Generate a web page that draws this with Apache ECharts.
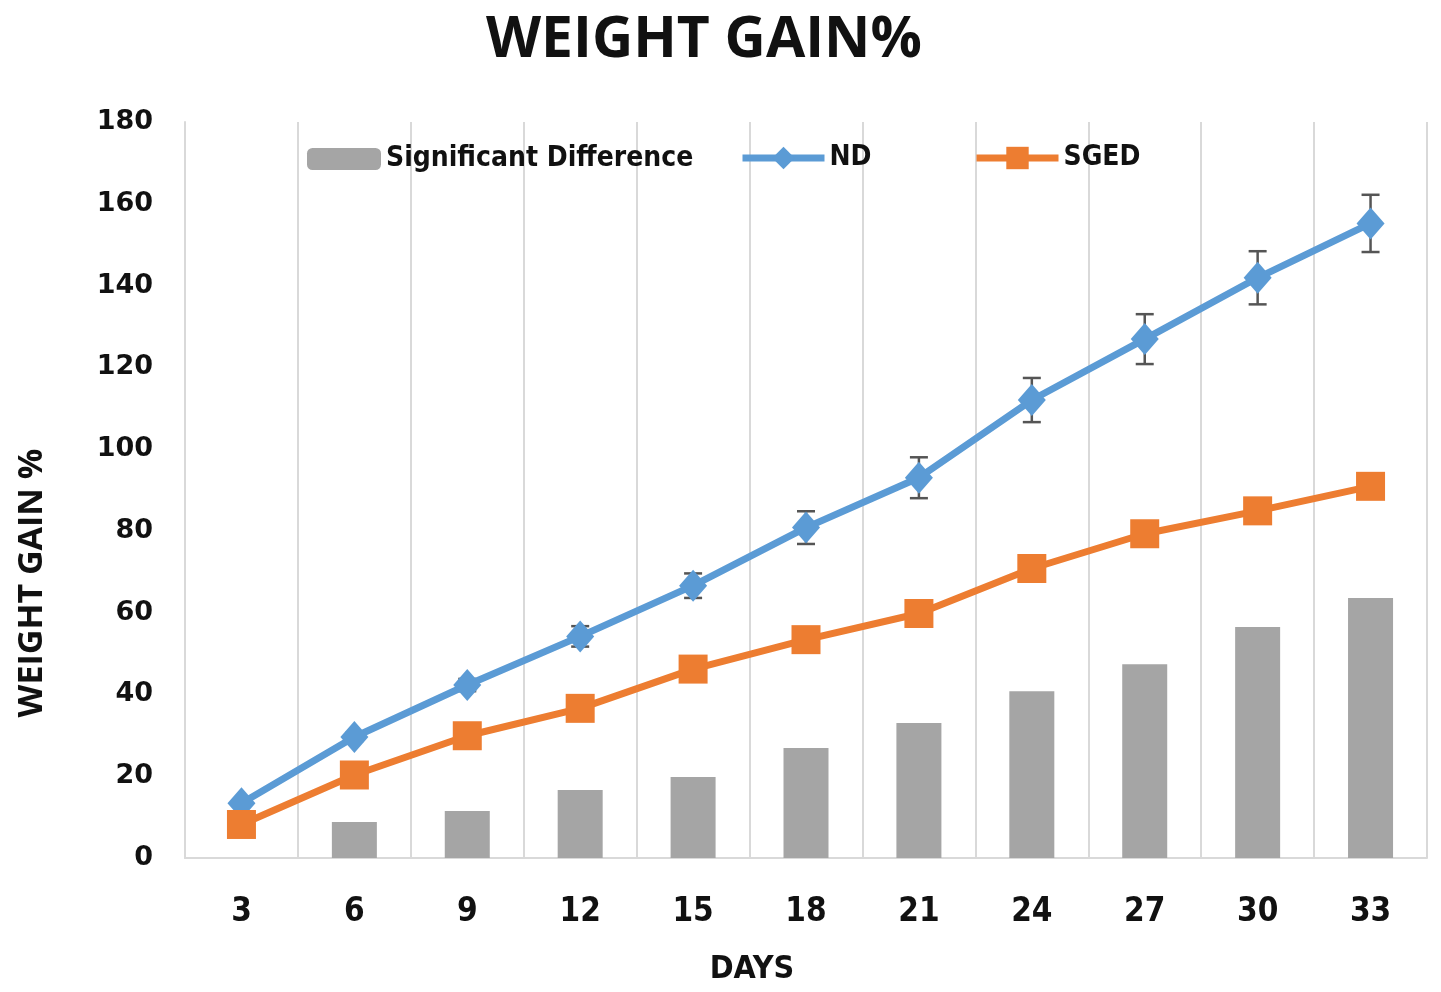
<!DOCTYPE html>
<html>
<head>
<meta charset="utf-8">
<script src="https://cdn.jsdelivr.net/npm/echarts@6/dist/echarts.min.js"></script>
<style>
html,body{margin:0;padding:0;background:#fff;}
#chart{width:1441px;height:992px;}
</style>
</head>
<body>
<div id="chart"></div>
<script>
var days = ['3','6','9','12','15','18','21','24','27','30','33'];
var ndValues = [13.4, 29.6, 42.3, 54.2, 66.6, 80.8, 93.0, 112.0, 126.9, 141.9, 155.2];
var ndErrors = [0.5, 1.0, 1.5, 2.5, 3.0, 4.0, 5.0, 5.4, 6.1, 6.5, 7.0];
var sgedValues = [8.2, 20.3, 29.9, 36.6, 46.2, 53.4, 59.8, 70.8, 79.3, 84.9, 90.9];
var sigDiff = [null, 8.8, 11.5, 16.6, 19.8, 26.9, 33.0, 40.8, 47.4, 56.5, 63.6];
var yTicks = [0, 20, 40, 60, 80, 100, 120, 140, 160, 180];

var errData = days.map(function (d, i) {
  return [i, ndValues[i] - ndErrors[i], ndValues[i] + ndErrors[i]];
});

var chart = echarts.init(document.getElementById('chart'));
var narrow = '"Liberation Sans Narrow", "DejaVu Sans Condensed", sans-serif';
var legendText = { fontFamily: narrow, fontWeight: 'bold', fontSize: 28, color: '#111' };

chart.setOption({
  backgroundColor: '#fff',
  animation: false,
  title: {
    text: 'WEIGHT GAIN%',
    left: 486,
    top: 12,
    textStyle: { fontFamily: '"Open Sans", sans-serif', fontWeight: 'bold', fontSize: 57, color: '#111' },
    padding: [0, 0, 0, 0],
    itemGap: 0
  },
  graphic: [
    {
      type: 'text',
      x: 32, y: 583,
      rotation: Math.PI / 2,
      style: {
        text: 'WEIGHT GAIN %',
        font: 'bold 34px "Open Sans", sans-serif',
        fill: '#111',
        textAlign: 'center',
        textVerticalAlign: 'middle'
      }
    },
    {
      type: 'text',
      x: 752, y: 970,
      style: {
        text: 'DAYS',
        font: 'bold 32px ' + narrow,
        fill: '#111',
        textAlign: 'center',
        textVerticalAlign: 'middle'
      }
    }
  ],
  legend: [
    { data: ['Significant Difference'], left: 302, top: 140, itemWidth: 74, itemHeight: 22, itemGap: 8, textStyle: legendText, selectedMode: false },
    { data: ['ND'], left: 734, top: 139, itemWidth: 82, itemHeight: 28, textStyle: legendText, selectedMode: false, lineStyle: { width: 7 } },
    { data: ['SGED'], left: 968, top: 139, itemWidth: 82, itemHeight: 28, textStyle: legendText, selectedMode: false, lineStyle: { width: 7 } }
  ],
  grid: { left: 185, right: 14, top: 122, bottom: 134, containLabel: false },
  xAxis: {
    type: 'category',
    data: days,
    boundaryGap: true,
    axisLine: { show: true, lineStyle: { color: '#d9d9d9', width: 2 } },
    axisTick: { show: false },
    splitLine: { show: true, lineStyle: { color: '#d9d9d9', width: 2 } },
    axisLabel: { margin: 38, fontFamily: narrow, fontWeight: 'bold', fontSize: 33, color: '#111' }
  },
  yAxis: {
    type: 'value',
    min: 0, max: 180, interval: 20,
    axisLine: { show: true, lineStyle: { color: '#d9d9d9', width: 2 } },
    axisTick: { show: false },
    splitLine: { show: false },
    axisLabel: {
      margin: 32,
      fontFamily: '"DejaVu Sans", sans-serif', fontWeight: 'bold', fontSize: 27, color: '#111',
      formatter: function (v) { return yTicks.indexOf(v) >= 0 ? String(v) : ''; }
    }
  },
  series: [
    {
      name: 'Significant Difference',
      type: 'bar',
      data: sigDiff,
      barWidth: 45,
      itemStyle: { color: '#a5a5a5' },
      z: 1
    },
    {
      name: 'ND error',
      type: 'custom',
      data: errData,
      z: 2,
      silent: true,
      renderItem: function (params, api) {
        var x = api.coord([api.value(0), 0])[0];
        var lo = api.coord([api.value(0), api.value(1)])[1];
        var hi = api.coord([api.value(0), api.value(2)])[1];
        var half = 9;
        var st = { stroke: '#555', lineWidth: 2.5 };
        return {
          type: 'group',
          children: [
            { type: 'line', shape: { x1: x, y1: lo, x2: x, y2: hi }, style: st },
            { type: 'line', shape: { x1: x - half, y1: lo, x2: x + half, y2: lo }, style: st },
            { type: 'line', shape: { x1: x - half, y1: hi, x2: x + half, y2: hi }, style: st }
          ]
        };
      }
    },
    {
      name: 'ND',
      type: 'line',
      data: ndValues,
      symbol: 'diamond',
      symbolSize: [28, 32],
      lineStyle: { color: '#5b9bd5', width: 7 },
      itemStyle: { color: '#5b9bd5' },
      z: 3
    },
    {
      name: 'SGED',
      type: 'line',
      data: sgedValues,
      symbol: 'rect',
      symbolSize: 29,
      lineStyle: { color: '#ed7d31', width: 7 },
      itemStyle: { color: '#ed7d31' },
      z: 3
    }
  ]
});
</script>
</body>
</html>
